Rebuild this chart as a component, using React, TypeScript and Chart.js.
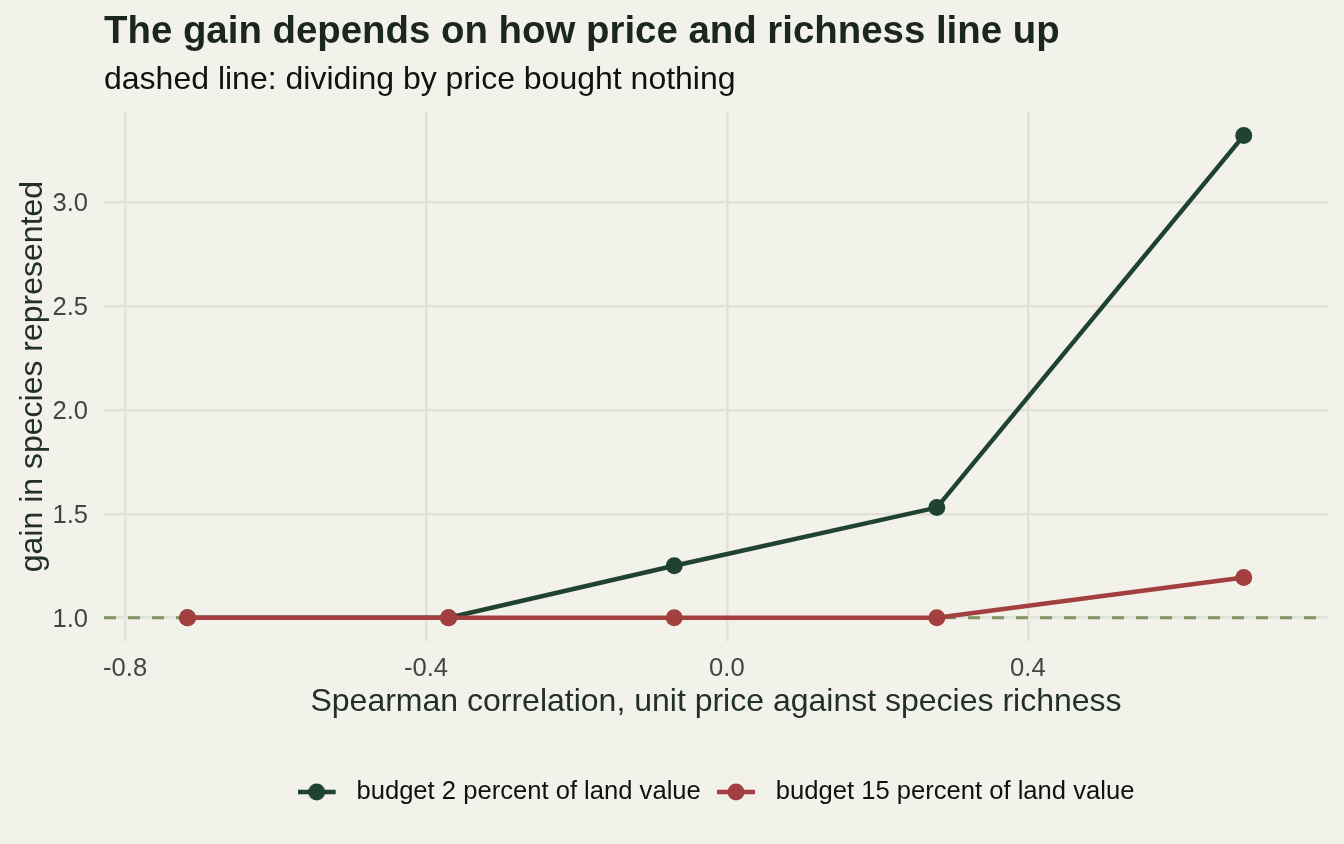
import { useEffect, useRef } from "react";
import { Chart, registerables } from "chart.js";

Chart.register(...registerables);

// ---- data ----
const correlations = [-0.717, -0.37, -0.07, 0.279, 0.687];
const gainBudget2 = [1.0, 1.0, 1.25, 1.53, 3.32];
const gainBudget15 = [1.0, 1.0, 1.0, 1.0, 1.194];
const seriesLabels = ["budget 2 percent of land value", "budget 15 percent of land value"];
const xTicks = [-0.8, -0.4, 0.0, 0.4];
const yTicks = [1.0, 1.5, 2.0, 2.5, 3.0];
const referenceGain = 1.0;
const xLimits = [-0.828, 0.799];
const yLimits = [0.888, 3.433];

const titleText = "The gain depends on how price and richness line up";
const subtitleText = "dashed line: dividing by price bought nothing";
const xTitle = "Spearman correlation, unit price against species richness";
const yTitle = "gain in species represented";

const GREEN = "#1f4330";
const RED = "#a33f3f";
const DASH = "#7f9568";
const GRID = "#e2e1d8";
const BG = "#f2f1ea";
const FONT = "'Liberation Sans', Arial, Helvetica, sans-serif";

function legendMarker(color: string): HTMLCanvasElement {
  const c = document.createElement("canvas");
  c.width = 46;
  c.height = 20;
  const ctx = c.getContext("2d")!;
  ctx.strokeStyle = color;
  ctx.lineWidth = 4.5;
  ctx.beginPath();
  ctx.moveTo(0, 10);
  ctx.lineTo(38, 10);
  ctx.stroke();
  ctx.fillStyle = color;
  ctx.beginPath();
  ctx.arc(19, 10, 8.5, 0, Math.PI * 2);
  ctx.fill();
  return c;
}

export default function App() {
  const ref = useRef<HTMLCanvasElement | null>(null);

  useEffect(() => {
    if (!ref.current) return;
    document.body.style.margin = "0";
    document.body.style.background = BG;
    Chart.defaults.font.family = FONT;

    const markers = [legendMarker(GREEN), legendMarker(RED)];

    const chart = new Chart(ref.current, {
      type: "line",
      data: {
        datasets: [
          {
            label: seriesLabels[1],
            data: correlations.map((x, i) => ({ x, y: gainBudget15[i] })),
            borderColor: RED,
            backgroundColor: RED,
            pointBackgroundColor: RED,
            pointBorderWidth: 0,
            pointRadius: 8.5,
            borderWidth: 4.5,
            tension: 0,
            order: 1,
          },
          {
            label: seriesLabels[0],
            data: correlations.map((x, i) => ({ x, y: gainBudget2[i] })),
            borderColor: GREEN,
            backgroundColor: GREEN,
            pointBackgroundColor: GREEN,
            pointBorderWidth: 0,
            pointRadius: 8.5,
            borderWidth: 4.5,
            tension: 0,
            order: 2,
          },
          {
            label: "reference",
            data: [
              { x: xLimits[0], y: referenceGain },
              { x: xLimits[1], y: referenceGain },
            ],
            borderColor: DASH,
            borderWidth: 3,
            borderDash: [12, 12],
            pointRadius: 0,
            tension: 0,
            order: 3,
          },
        ],
      },
      options: {
        animation: false,
        responsive: false,
        maintainAspectRatio: false,
        layout: { padding: { left: 0, right: 16, top: 0, bottom: 29.2 } },
        plugins: {
          tooltip: { enabled: false },
          title: {
            display: true,
            text: titleText,
            align: "start",
            fullSize: false,
            color: "#1b2620",
            font: { size: 38.4, weight: "bold", family: FONT },
            padding: { top: 9, bottom: 0 },
          },
          subtitle: {
            display: true,
            text: subtitleText,
            align: "start",
            fullSize: false,
            color: "#111111",
            font: { size: 32, family: FONT },
            padding: { top: 5.8, bottom: 12.8 },
          },
          legend: {
            display: true,
            position: "bottom",
            align: "center",
            fullSize: false,
            labels: {
              usePointStyle: true,
              pointStyleWidth: 46,
              boxHeight: 25.6,
              padding: 16.2,
              color: "#111111",
              font: { size: 25.6, family: FONT },
              generateLabels: () => [
                {
                  text: seriesLabels[0],
                  pointStyle: markers[0],
                  fillStyle: GREEN,
                  strokeStyle: GREEN,
                  lineWidth: 0,
                  hidden: false,
                  datasetIndex: 1,
                  fontColor: "#111111",
                } as any,
                {
                  text: seriesLabels[1],
                  pointStyle: markers[1],
                  fillStyle: RED,
                  strokeStyle: RED,
                  lineWidth: 0,
                  hidden: false,
                  datasetIndex: 0,
                  fontColor: "#111111",
                } as any,
              ],
            },
          },
        },
        scales: {
          x: {
            type: "linear",
            min: xLimits[0],
            max: xLimits[1],
            afterBuildTicks: (scale: any) => {
              scale.ticks = xTicks.map((v) => ({ value: v }));
            },
            afterFit: (scale: any) => {
              scale.height = 122;
            },
            ticks: {
              color: "#444444",
              font: { size: 25.6, family: FONT },
              padding: 13,
              maxRotation: 0,
              callback: (v: any) => Number(v).toFixed(1),
            },
            grid: { color: GRID, lineWidth: 2.5, drawTicks: false },
            border: { display: false },
            title: {
              display: true,
              text: xTitle,
              color: "#22302a",
              font: { size: 32, family: FONT },
              padding: { top: 0, bottom: 41.8 },
            },
          },
          y: {
            type: "linear",
            min: yLimits[0],
            max: yLimits[1],
            afterBuildTicks: (scale: any) => {
              scale.ticks = yTicks.map((v) => ({ value: v }));
            },
            afterFit: (scale: any) => {
              scale.width = 104;
            },
            ticks: {
              color: "#444444",
              font: { size: 25.6, family: FONT },
              padding: 16,
              labelOffset: 2,
              callback: (v: any) => Number(v).toFixed(1),
            },
            grid: { color: GRID, lineWidth: 2.5, drawTicks: false },
            border: { display: false },
            title: {
              display: true,
              text: yTitle,
              color: "#22302a",
              font: { size: 32, family: FONT },
              padding: { top: 14, bottom: 0 },
            },
          },
        },
      },
    });

    return () => chart.destroy();
  }, []);

  return (
    <div
      style={{
        position: "fixed",
        left: 0,
        top: 0,
        width: 1344,
        height: 844,
        background: BG,
      }}
    >
      <canvas ref={ref} width={1344} height={844} style={{ display: "block" }} />
    </div>
  );
}
